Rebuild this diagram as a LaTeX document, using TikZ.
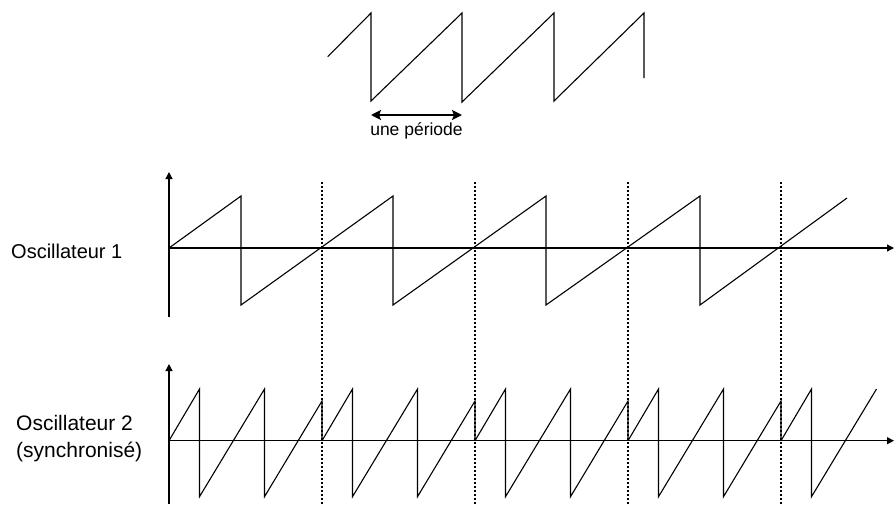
\documentclass[tikz,border=0pt]{standalone}
\usepackage{fontspec}
\setmainfont{Liberation Sans}
\usepackage{tikz}
\usetikzlibrary{arrows.meta,positioning,calc}

\begin{document}
\begin{tikzpicture}[
  x=1pt, y=-1pt,
  wave/.style={line width=1.1pt, line join=miter},
  axis/.style={line width=1.2pt, -{Triangle[length=7pt,width=7pt]}},
  syncline/.style={line width=1.2pt, dash pattern=on 2pt off 2pt},
  period/.style={line width=2pt, {Stealth[length=10pt,width=10pt,inset=2pt]}-{Stealth[length=10pt,width=10pt,inset=2pt]}},
  label/.style={inner sep=0pt, font=\fontsize{20}{27}\selectfont}
]
\useasboundingbox (0,0) rectangle (894,504);

% signal du haut
\draw[wave] (327.7,56.7) -- (371,13) -- (371,101) -- (462,13) -- (462,102)
  -- (554,13) -- (554,101) -- (644,13) -- (644,78);
\coordinate (pa) at (371,115);
\coordinate (pb) at (462,115);
\draw[period] (pa) -- (pb);
\node[inner sep=0pt, anchor=base, font=\fontsize{17.5}{20}\selectfont] (periode) at ($(pa)!0.5!(pb)+(0,20)$) {une période};

% lignes de synchronisation
\foreach \s in {322,475,628,781}
  \draw[syncline] (\s,182) -- (\s,504);

% oscillateur 1
\coordinate (o1) at (169,248);
\draw[axis] (169,317) -- (169,172);
\draw[axis] (o1) -- (894,248);
\draw[wave] (o1) -- (241,196) -- (241,305) -- (393,196) -- (393,305)
  -- (546,196) -- (546,305) -- (700,196) -- (700,305) -- (847,198);
\node[label, anchor=base west] (osc1) at (11,258) {Oscillateur 1};

% oscillateur 2
\coordinate (o2) at (169,440.7);
\draw[axis] (169,504) -- (169,364);
\draw[axis] (o2) -- (894,440.7);
\foreach \s in {169,322,475,628}
  \draw[wave] (\s,440.7) -- (\s+30.5,389) -- (\s+30.5,496.7) -- (\s+95.5,389)
    -- (\s+95.5,496.7) -- (\s+153,401) -- (\s+153,440.7);
\draw[wave] (781,440.7) -- (811.5,389) -- (811.5,496.7) -- (876.5,389);
\node[label, font=\fontsize{21}{27}\selectfont, align=left, anchor=north west] (osc2) at (16,415.5) {Oscillateur 2\\(synchronisé)};
\end{tikzpicture}
\end{document}
